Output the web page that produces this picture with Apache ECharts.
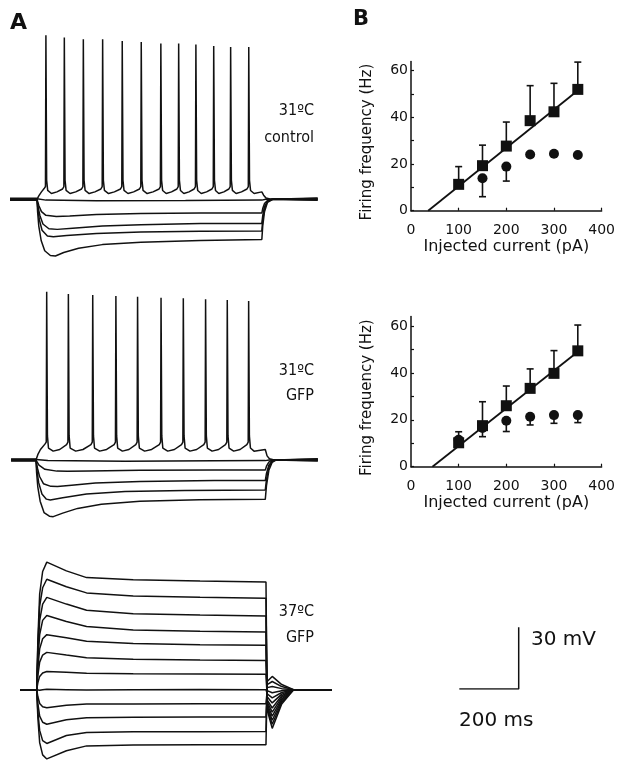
<!DOCTYPE html>
<html>
<head>
<meta charset="utf-8">
<script src="https://cdn.jsdelivr.net/npm/echarts@6/dist/echarts.min.js"></script>
<style>
  html, body { margin: 0; padding: 0; background: #fff; }
  #chart { width: 618px; height: 763px; }
</style>
</head>
<body>
<div id="chart"></div>
<script>
// ---- panel B: firing frequency vs injected current ----
const currents = [100, 150, 200, 250, 300, 350];
const ctrlSquare = [11.3, 19.3, 27.7, 38.6, 42.4, 52];
const ctrlSquareHi = [18.9, 28.1, 38, 53.6, 54.6, 63.7];
const ctrlDotX = [150, 200, 250, 300, 350];
const ctrlDot = [13.9, 18.9, 24.1, 24.4, 23.9];
const ctrlDotLo = [6, 12.7, 23, 23.4, 22.9];
const ctrlFit = [[36, 0], [350, 51.5]];

const gfpSquare = [10.2, 17.5, 26, 33.4, 39.8, 49.4];
const gfpSquareHi = [14.9, 27.7, 34.4, 41.7, 49.5, 60.4];
const gfpDotX = [100, 150, 200, 250, 300, 350];
const gfpDot = [11.5, 16.5, 19.6, 21.3, 22, 22];
const gfpDotLo = [9, 12.8, 15, 17.8, 18.5, 18.8];
const gfpFit = [[45, 0], [350, 49]];

const freqTicks = [0, 10, 20, 30, 40, 50, 60];
const freqLabels = [0, 20, 40, 60];
const currentTicks = [100, 200, 300, 400];
const currentLabels = [0, 100, 200, 300, 400];

// ---- panel A: voltage traces (ms, mV relative to rest) ----
// 31ºC control
const ctrlSpikeT = [130, 192, 256, 321, 387, 451, 517, 577, 635, 695, 752, 813];
const ctrlSpikeV = [79.6, 78.6, 77.7, 77.7, 76.8, 76.3, 75.6, 75.6, 75.1, 74.4, 73.9, 73.9];
const ctrlHyper = [
  [[9, 0.3], [100, 0.3], [130, -0.4], [300, -0.7], [600, -0.6], [857, -0.4], [870, 0], [1045, 0.2]],
  [[9, 0], [100, 0], [106, -3], [115, -6], [130, -7.8], [165, -8.4], [210, -8.1], [300, -7.4], [450, -6.9], [650, -6.7], [857, -6.7], [860, -4.5], [866, -2], [876, -0.6], [890, 0], [1045, -0.3]],
  [[9, -0.3], [100, -0.3], [104, -4], [110, -8], [120, -12], [140, -14.3], [168, -14.6], [220, -14], [320, -13], [450, -12.3], [650, -11.8], [857, -11.7], [860, -8], [866, -3.5], [876, -1], [890, 0], [1045, 0.4]],
  [[9, 0.5], [100, 0.5], [103, -5], [108, -10], [117, -15], [135, -17.8], [155, -18.2], [200, -17.6], [300, -16.6], [450, -15.9], [650, -15.5], [857, -15.4], [860, -10], [866, -4.5], [876, -1.2], [892, 0], [1045, -0.5]],
  [[9, -0.5], [100, -0.5], [102, -6], [106, -13], [114, -20], [126, -25], [145, -27.3], [162, -27.5], [190, -25.8], [240, -23.8], [320, -22], [450, -20.8], [650, -20], [857, -19.5], [860, -13], [866, -6], [876, -1.5], [894, 0], [1045, 0.6]]
];

// 31ºC GFP
const gfpSpikeT = [136, 209, 291, 369, 442, 521, 596, 671, 744, 816];
const gfpSpikeV = [81.7, 80.6, 80.1, 79.6, 79.3, 78.8, 78.5, 78.0, 77.7, 77.2];
const gfpHyper = [
  [[16, 0.3], [100, 0.3], [140, -0.3], [400, -0.6], [700, -0.4], [872, -0.3], [885, 0], [1049, 0.2]],
  [[16, 0], [100, 0], [110, -2.5], [130, -4.5], [170, -5.4], [205, -5.5], [280, -5.3], [450, -5], [700, -4.9], [872, -4.9], [876, -3], [884, -1], [895, 0], [1049, -0.3]],
  [[16, -0.3], [100, -0.3], [105, -4], [112, -8], [125, -11.5], [150, -12.8], [172, -12.9], [220, -12.2], [300, -11.2], [450, -10.4], [700, -10], [872, -10], [876, -6.5], [884, -2.5], [895, -0.5], [905, 0], [1049, 0.4]],
  [[16, 0.5], [100, 0.5], [103, -5], [109, -11], [120, -16.5], [135, -19], [148, -19.4], [190, -18.3], [270, -16.5], [400, -15.3], [600, -14.8], [872, -14.6], [876, -9.5], [884, -3.5], [895, -0.8], [905, 0], [1049, -0.5]],
  [[16, -0.5], [100, -0.5], [102, -6], [106, -13], [114, -20], [127, -25.5], [145, -27.3], [158, -27.5], [190, -25.8], [240, -23.5], [320, -21.5], [450, -20], [650, -19.3], [872, -19.1], [876, -12.5], [884, -5], [895, -1.2], [908, 0], [1049, 0.6]]
];

// 37ºC GFP: level of each trace at these times during the step
const hotTimes = [100, 104, 110, 120, 134, 200, 268, 425, 650, 872];
const hotLevels = [
  [0, 25, 47, 58, 62.6, 58.3, 55, 53.9, 53.3, 52.9],
  [0, 22, 41, 50, 54.2, 50.5, 47.5, 46, 45.3, 44.9],
  [0, 18, 34, 42, 45.3, 42, 39, 37.3, 36.6, 36.1],
  [0, 15, 27, 34, 36.4, 33.5, 31, 29.3, 28.7, 28.3],
  [0, 11, 20, 25, 27, 25.5, 23.8, 22.6, 22.1, 21.8],
  [0, 7, 13.5, 17, 18.3, 17, 15.7, 14.9, 14.5, 14.3],
  [0, 3.5, 6.5, 8.2, 8.9, 8.5, 8, 7.8, 7.7, 7.6],
  [0, 0, -0.3, 0, 0.2, 0, -0.2, 0, 0.1, 0],
  [0, -3.5, -6.8, -8.4, -8.9, -7.6, -7.1, -7, -6.9, -6.9],
  [0, -7, -13, -16, -17, -14.8, -13.8, -13.5, -13.4, -13.4],
  [0, -11, -20, -25, -26.4, -22.5, -21, -20.7, -20.6, -20.5],
  [0, -14, -26, -32, -34, -30, -27.6, -27.2, -27.1, -27]
];
// after the step: values at 876, 893 and 925 ms
const hotRebA = [-10, -9, -8, -7, -6, -5, -3.5, -2, -0.5, 1, 2.5, 4];
const hotRebB = [-19, -17, -15, -13, -11, -9, -6.5, -4, -1.5, 1.5, 4, 6.5];
const hotRebC = [-7, -6.2, -5.4, -4.6, -3.8, -3, -2.2, -1.4, -0.5, 0.5, 1.5, 2.5];

// scale bar
const scaleBar = [[0, 0], [200, 0], [200, 30]];

const ink = '#111';
const sans = '"DejaVu Sans", "Liberation Sans", Arial, sans-serif';
const narrow = '"Liberation Sans Narrow", "DejaVu Sans Condensed", "Liberation Sans", sans-serif';

// spike train: rest -> depolarised plateau with spikes -> back to rest
function spikeTrace(t0, t1, on, off, times, peaks, thr, trough) {
  const pts = [[t0, 0], [on, 0], [on + 6, trough * 0.6], [on + 15, trough + 0.8], [times[0] - 6, thr - 1]];
  times.forEach((t, i) => {
    pts.push([t - 1.5, thr], [t, peaks[i]], [t + 2.5, thr + 3], [t + 6, trough + 1.5]);
    if (i < times.length - 1) {
      const isi = times[i + 1] - t;
      pts.push([t + isi * 0.3, trough], [t + isi * 0.6, trough + 0.8], [times[i + 1] - 6, thr - 1.2]);
    }
  });
  const last = times[times.length - 1];
  pts.push([last + 18, trough], [off, trough + 0.8], [off + 6, 2], [off + 14, 0.6], [off + 30, 0], [t1, 0]);
  return pts;
}

function trace(data, gi) {
  return {
    type: 'line', data: data, xAxisIndex: gi, yAxisIndex: gi,
    symbol: 'none', silent: true, animation: false,
    lineStyle: { color: ink, width: 1.5 }
  };
}

function errorBars(xs, ys, ends, gi) {
  return {
    type: 'custom', xAxisIndex: gi, yAxisIndex: gi, silent: true, z: 1,
    data: xs.map((x, i) => [x, ys[i], ends[i]]),
    renderItem: function (params, api) {
      const p0 = api.coord([api.value(0), api.value(1)]);
      const p1 = api.coord([api.value(0), api.value(2)]);
      const st = { stroke: ink, lineWidth: 1.6 };
      return {
        type: 'group',
        children: [
          { type: 'line', shape: { x1: p0[0], y1: p0[1], x2: p1[0], y2: p1[1] }, style: st },
          { type: 'line', shape: { x1: p1[0] - 3.5, y1: p1[1], x2: p1[0] + 3.5, y2: p1[1] }, style: st }
        ]
      };
    }
  };
}

function marks(xs, ys, shape, size, gi) {
  return {
    type: 'scatter', xAxisIndex: gi, yAxisIndex: gi, silent: true, z: 3,
    symbol: shape, symbolSize: size,
    itemStyle: { color: ink, opacity: 1 },
    data: xs.map((x, i) => [x, ys[i]])
  };
}

function fitLine(data, gi) {
  return {
    type: 'line', xAxisIndex: gi, yAxisIndex: gi, data: data, symbol: 'none',
    silent: true, z: 2, lineStyle: { color: ink, width: 1.8 }
  };
}

// hidden axes for the traces
function hiddenX(max, gi) { return { type: 'value', gridIndex: gi, min: 0, max: max, show: false }; }
function hiddenY(min, max, gi) { return { type: 'value', gridIndex: gi, min: min, max: max, show: false }; }

function freqX(gi) {
  return {
    type: 'value', gridIndex: gi, min: 0, max: 400, interval: 100,
    name: 'Injected current (pA)', nameLocation: 'middle', nameGap: 28,
    nameTextStyle: { color: ink, fontSize: 16, fontFamily: sans },
    axisLine: { lineStyle: { color: ink, width: 1.5 } },
    axisTick: { inside: true, length: 3, customValues: currentTicks, lineStyle: { color: ink, width: 1.2 } },
    axisLabel: { color: ink, fontSize: 14, fontFamily: sans, margin: 13, customValues: currentLabels },
    splitLine: { show: false }
  };
}
function freqY(gi) {
  return {
    type: 'value', gridIndex: gi, min: 0, max: 64, interval: 20,
    name: 'Firing frequency (Hz)', nameLocation: 'middle', nameGap: 36,
    nameTextStyle: { color: ink, fontSize: 15, fontFamily: sans, padding: [0, 12, 0, 0] },
    axisLine: { show: true, lineStyle: { color: ink, width: 1.5 } },
    axisTick: { show: true, inside: true, length: 3, customValues: freqTicks, lineStyle: { color: ink, width: 1.2 } },
    axisLabel: { color: ink, fontSize: 14, fontFamily: sans, margin: 3, customValues: freqLabels },
    splitLine: { show: false }
  };
}

const chart = echarts.init(document.getElementById('chart'), null, { renderer: 'canvas' });

const series = [];
series.push(trace(spikeTrace(9, 1045, 100, 857, ctrlSpikeT, ctrlSpikeV, 6.2, 2.8), 0));
ctrlHyper.forEach(d => series.push(trace(d, 0)));
series.push(trace(spikeTrace(16, 1049, 100, 872, gfpSpikeT, gfpSpikeV, 8.7, 4.3), 1));
gfpHyper.forEach(d => series.push(trace(d, 1)));
hotLevels.forEach((lv, i) => {
  const d = [[44, 0]].concat(hotTimes.map((t, j) => [t, lv[j]]));
  d.push([876, hotRebA[i]], [893, hotRebB[i]], [925, hotRebC[i]], [965, 0], [1094, 0]);
  series.push(trace(d, 2));
});
series.push({
  type: 'line', data: scaleBar, xAxisIndex: 3, yAxisIndex: 3, symbol: 'none', silent: true,
  lineStyle: { color: ink, width: 1.5 }
});

// B top: 31ºC control
series.push(fitLine(ctrlFit, 4));
series.push(errorBars(currents, ctrlSquare, ctrlSquareHi, 4));
series.push(errorBars(ctrlDotX, ctrlDot, ctrlDotLo, 4));
series.push(marks(currents, ctrlSquare, 'rect', 11, 4));
series.push(marks(ctrlDotX, ctrlDot, 'circle', 10, 4));
// B bottom: 31ºC GFP
series.push(fitLine(gfpFit, 5));
series.push(errorBars(currents, gfpSquare, gfpSquareHi, 5));
series.push(errorBars(gfpDotX, gfpDot, gfpDotLo, 5));
series.push(marks(currents, gfpSquare, 'rect', 11, 5));
series.push(marks(gfpDotX, gfpDot, 'circle', 10, 5));

function label(text, x, y, size, font, weight, align) {
  return {
    type: 'text', x: x, y: y, silent: true,
    style: {
      text: text, fill: ink, font: (weight || 'normal') + ' ' + size + 'px ' + font,
      textAlign: align || 'left', textVerticalAlign: 'middle'
    }
  };
}

chart.setOption({
  animation: false,
  backgroundColor: '#fff',
  grid: [
    { left: 7.3, top: 13.9, width: 311.85, height: 267.8 },
    { left: 6.3, top: 274.6, width: 311.85, height: 267.8 },
    { left: 7.0, top: 506.3, width: 326.7, height: 259.6 },
    { left: 459.3, top: 627.3, width: 59.4, height: 61.8 },
    { left: 411, top: 61.4, width: 191, height: 149.3 },
    { left: 411, top: 316.6, width: 191, height: 150.1 }
  ],
  xAxis: [hiddenX(1050, 0), hiddenX(1050, 1), hiddenX(1100, 2), hiddenX(200, 3), freqX(4), freqX(5)],
  yAxis: [hiddenY(-40, 90, 0), hiddenY(-40, 90, 1), hiddenY(-36, 90, 2), hiddenY(0, 30, 3), freqY(4), freqY(5)],
  series: series,
  graphic: [
    label('A', 10, 23, 22, sans, 'bold'),
    label('B', 353, 19.5, 21, sans, 'bold'),
    label('31ºC', 314, 111, 16, narrow, 'normal', 'right'),
    label('control', 314, 137.5, 16, narrow, 'normal', 'right'),
    label('31ºC', 314, 371, 16, narrow, 'normal', 'right'),
    label('GFP', 314, 396, 16, narrow, 'normal', 'right'),
    label('37ºC', 314, 612, 16, narrow, 'normal', 'right'),
    label('GFP', 314, 638, 16, narrow, 'normal', 'right'),
    label('30 mV', 531, 639.5, 20, sans),
    label('200 ms', 459, 721, 20, sans)
  ]
});
</script>
</body>
</html>
